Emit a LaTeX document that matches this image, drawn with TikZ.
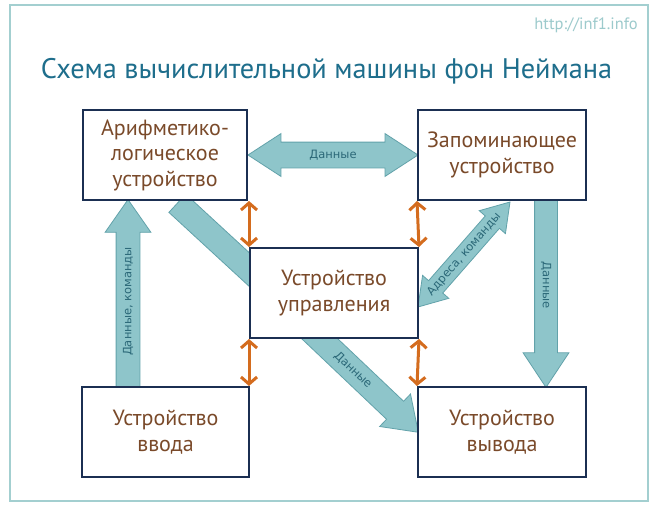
\documentclass[tikz,border=0pt]{standalone}
\usepackage{fontspec}
\setmainfont{PT Sans}
\newfontfamily\labelfont{DejaVu Sans}
\usetikzlibrary{shapes.arrows,calc,arrows.meta}
\definecolor{framec}{HTML}{A3CFD0}
\definecolor{titlec}{HTML}{1E6E8C}
\definecolor{urlc}{HTML}{9CCACC}
\definecolor{boxtext}{HTML}{7A4A2A}
\definecolor{boxline}{HTML}{1B2F52}
\definecolor{arrfill}{HTML}{8EC5CA}
\definecolor{arrline}{HTML}{62A2AA}
\definecolor{arrtext}{HTML}{2B6878}
\definecolor{orangec}{HTML}{D46C1E}
\tikzset{
  unitbox/.style={draw=boxline, line width=2pt, fill=white, text=boxtext, align=center,
    font=\fontsize{22}{25.5}\selectfont, minimum height=90pt, inner sep=0pt},
  blockarr/.style={single arrow, draw=arrline, fill=arrfill, line width=0.8pt, text=arrtext,
    font=\labelfont\fontsize{11.5}{13}\selectfont, text height=9pt, text depth=2.5pt, inner xsep=0pt,
    inner ysep=6pt, single arrow tip angle=68, single arrow head extend=10pt},
  dblarr/.style={double arrow, draw=arrline, fill=arrfill, line width=0.8pt, text=arrtext,
    font=\labelfont\fontsize{11.5}{13}\selectfont, text height=9pt, text depth=2.5pt, inner xsep=0pt,
    inner ysep=6.75pt, double arrow tip angle=66, double arrow head extend=8.5pt},
  busarr/.style={draw=orangec, line width=3pt,
    {Straight Barb[length=7pt,width=16pt]}-{Straight Barb[length=7pt,width=16pt]}},
}
\newcommand{\connarrow}[4][]{%
  \path let \p1=(#2), \p2=(#3), \n1={atan2(\y2-\y1,\x2-\x1)}, \n2={veclen(\x2-\x1,\y2-\y1)} in
    node[blockarr,#1,minimum height=\n2,rotate=\n1,anchor=tail] at (#2) {#4};}
\newcommand{\dblconn}[4][]{%
  \path let \p1=(#2), \p2=(#3), \n1={atan2(\y2-\y1,\x2-\x1)}, \n2={veclen(\x2-\x1,\y2-\y1)} in
    node[dblarr,#1,minimum height=\n2,rotate=\n1,anchor=center] at ($(#2)!0.5!(#3)$) {#4};}
\begin{document}
\begin{tikzpicture}[x=1pt,y=-1pt]
\useasboundingbox (0,0) rectangle (656,511);
\fill[white] (0,0) rectangle (656,511);
\draw[framec, line width=2pt] (10,5) rectangle (648,501);
\node[text=urlc, font=\fontsize{16.5}{19}\selectfont, anchor=base east, inner sep=0pt] (url) at (638,30) {http://inf1.info};
\node[text=titlec, font=\fontsize{28.3}{34}\selectfont, anchor=base, inner sep=0pt] (title) at (326.5,78) {Схема вычислительной машины фон Неймана};
% connector end points
\coordinate (a1s) at (128,387); \coordinate (a1e) at (128,200);
\coordinate (a2s) at (546,200); \coordinate (a2e) at (546,387);
\coordinate (a3s) at (300,320); \coordinate (a3e) at (418,432);
\coordinate (a4s) at (177,203); \coordinate (a4e) at (291,308);
\coordinate (d1s) at (248,155); \coordinate (d1e) at (418,155);
\coordinate (d2s) at (418,307); \coordinate (d2e) at (510,202);
% block arrows
\connarrow[inner ysep=5.75pt, single arrow head extend=11pt, single arrow tip angle=70]{a1s}{a1e}{Данные, команды}
\connarrow[inner ysep=5.25pt, single arrow head extend=11.5pt, single arrow tip angle=67]{a2s}{a2e}{Данные}
\connarrow[inner ysep=6.25pt, single arrow head extend=10pt, single arrow tip angle=70]{a3s}{a3e}{Данные}
\connarrow[inner ysep=6.25pt]{a4s}{a4e}{}
\dblconn{d1s}{d1e}{Данные}
\dblconn[inner ysep=3.25pt, double arrow head extend=8pt]{d2s}{d2e}{Адреса, команды}
% boxes
\node[unitbox, minimum width=164pt] (alu) at (165,155) {Арифметико-\\логическое\\устройство};
\node[unitbox, minimum width=168pt] (mem) at (502,155) {Запоминающее\\устройство};
\node[unitbox, minimum width=168pt] (ctl) at (334,293) {Устройство\\управления};
\node[unitbox, minimum width=167pt] (inp) at (165.5,432) {Устройство\\ввода};
\node[unitbox, minimum width=168pt] (out) at (502,432) {Устройство\\вывода};
% bus arrows
\draw[busarr] (ctl.north west |- alu.south) -- (ctl.north west);
\draw[busarr] (mem.south west) -- (ctl.north east);
\draw[busarr] (ctl.south west) -- (ctl.south west |- inp.north);
\draw[busarr] (ctl.south east) -- (out.north west);
\end{tikzpicture}
\end{document}
